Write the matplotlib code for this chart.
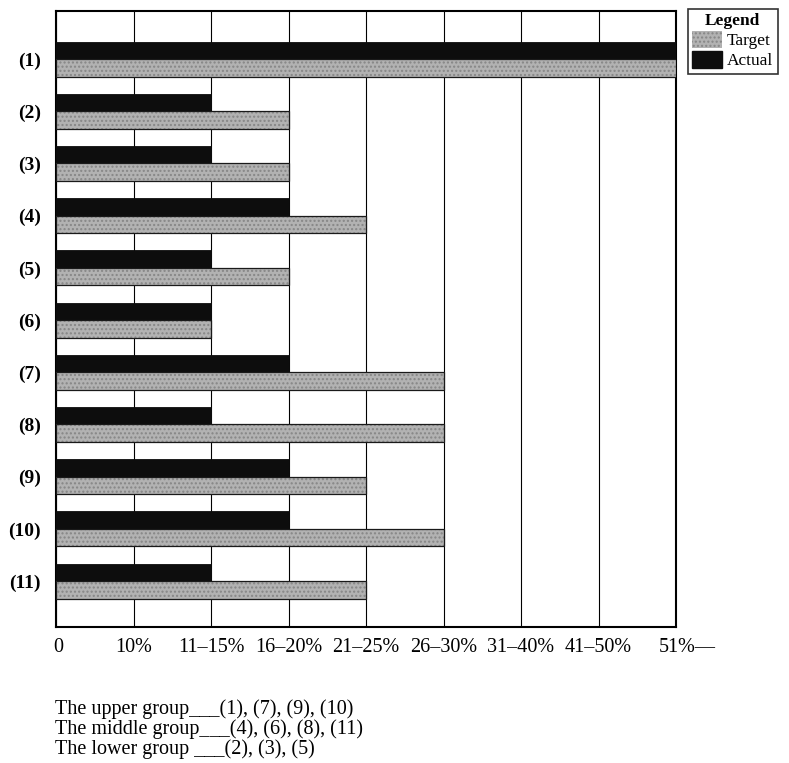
import matplotlib
matplotlib.use("Agg")
import matplotlib.pyplot as plt
import matplotlib.transforms as mtransforms
from matplotlib.patches import Patch
import numpy as np

plt.rcParams['font.family'] = ['Liberation Serif', 'DejaVu Serif']

categories = ["(1)", "(2)", "(3)", "(4)", "(5)", "(6)", "(7)", "(8)", "(9)", "(10)", "(11)"]
actual = [8, 2, 2, 3, 2, 2, 3, 2, 3, 3, 2]
target = [8, 3, 3, 4, 3, 2, 5, 5, 4, 5, 4]
tick_labels = ["0", "10%", "11–15%", "16–20%", "21–25%", "26–30%", "31–40%", "41–50%", "51%—"]
groups = [
    ("The upper group", "(1), (7), (9), (10)"),
    ("The middle group", "(4), (6), (8), (11)"),
    ("The lower group ", "(2), (3), (5)"),
]

fig = plt.figure(figsize=(7.89, 7.63), dpi=100)
ax = fig.add_axes([56/789, 1-627/763, 620/789, 616/763])

y = np.arange(len(categories))
h = 0.335
gray = '#b2b2b2'
hatch_col = '#868686'
ax.barh(y - h/2, actual, height=h, color='#0d0d0d', edgecolor='#0d0d0d', linewidth=0.6, zorder=3)
ax.barh(y + h/2, target, height=h, color=gray, edgecolor=hatch_col, linewidth=0,
        hatch='....', zorder=3)
ax.barh(y + h/2, target, height=h, fill=False, edgecolor='#1a1a1a', linewidth=0.9, zorder=4)

ax.set_xlim(0, 8)
ax.set_ylim(10.88, -0.92)
ax.set_xticks(range(len(tick_labels)))
ax.set_xticklabels(tick_labels, fontsize=14.5)
ax.set_yticks(y)
ax.set_yticklabels(categories, fontsize=14, fontweight='bold')
ax.tick_params(axis='both', length=0)
ax.tick_params(axis='x', pad=8)
ax.tick_params(axis='y', pad=11)
ax.grid(axis='x', color='black', linewidth=0.8, zorder=0)
for s in ax.spines.values():
    s.set_linewidth(1.5)
    s.set_color('black')

labs = ax.get_xticklabels()
labs[0].set_horizontalalignment('left')
labs[0].set_transform(labs[0].get_transform() + mtransforms.ScaledTranslation(-3/100, 0, fig.dpi_scale_trans))
labs[-1].set_horizontalalignment('left')
labs[-1].set_transform(labs[-1].get_transform() + mtransforms.ScaledTranslation(-17/100, 0, fig.dpi_scale_trans))

handles = [Patch(facecolor=gray, edgecolor=hatch_col, hatch='....', linewidth=0, label='Target'),
           Patch(facecolor='#0d0d0d', edgecolor='#0d0d0d', label='Actual')]
leg = fig.legend(handles=handles, loc='upper left', bbox_to_anchor=(688/789, 1-9/763),
                 frameon=True, fancybox=False, edgecolor='black', fontsize=12.5,
                 title='Legend', title_fontproperties={'weight': 'bold', 'size': 12.5},
                 handlelength=1.7, handleheight=1.1, handletextpad=0.3,
                 borderpad=0.25, labelspacing=0.1, borderaxespad=0)
leg.get_frame().set_linewidth(1.2)

for i, (g, m) in enumerate(groups):
    fig.text(55/789, 1-(714 + 20*i)/763, g + "___" + m, fontsize=14.5, ha='left', va='baseline')

fig.savefig("out.png", dpi=100)
